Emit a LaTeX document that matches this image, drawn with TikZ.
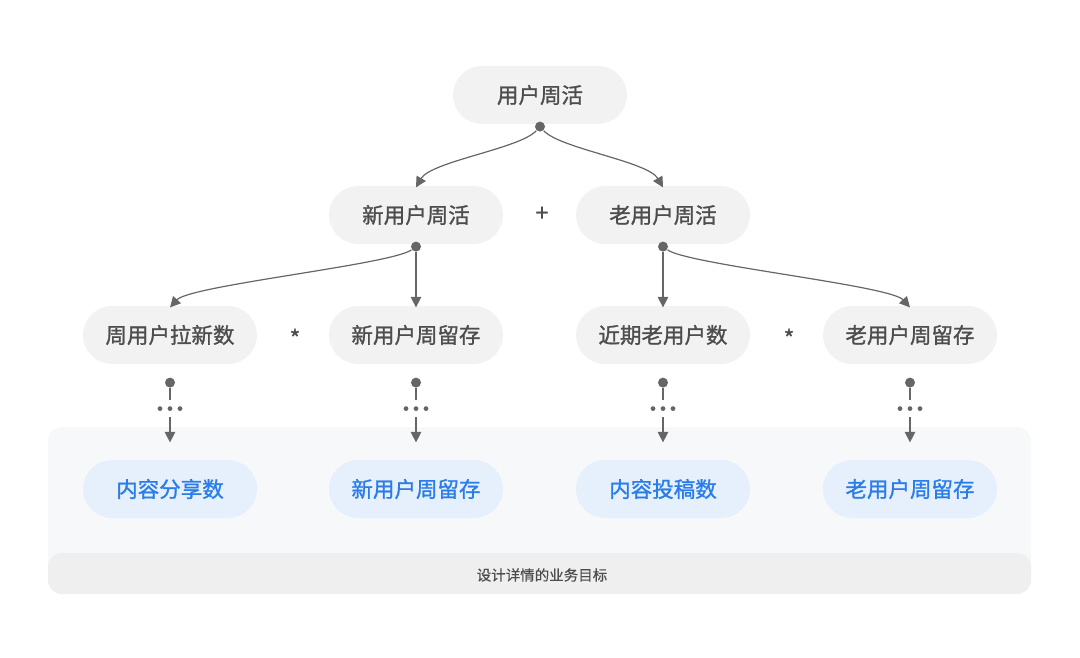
\documentclass[tikz,border=0pt]{standalone}
\usepackage{fontspec}
\newfontfamily\cjk[FakeBold=1.2]{Noto Sans CJK SC}
\newfontfamily\cjklight[FakeBold=0.4]{Noto Sans CJK SC}
\usetikzlibrary{arrows.meta,positioning}
\definecolor{pillgray}{HTML}{F2F2F2}
\definecolor{textgray}{HTML}{4D4D4D}
\definecolor{linegray}{HTML}{666666}
\definecolor{goalfill}{HTML}{E6F0FC}
\definecolor{goaltext}{HTML}{2A7DE8}
\definecolor{panelfill}{HTML}{F7F8FA}
\definecolor{bandfill}{HTML}{EFEFF0}

\begin{document}
\begin{tikzpicture}[x=1pt,y=-1pt,>={Triangle[length=10.5pt,width=10.5pt]},draw=linegray,line width=1.2pt]
    \tikzstyle{pill}=[rounded corners=29pt,minimum width=174pt,minimum height=58pt,inner sep=0pt,fill=pillgray,text=textgray,font=\cjk\fontsize{21.5}{24}\selectfont]
    \tikzstyle{goal}=[pill,fill=goalfill,text=goaltext]
    \tikzstyle{dot}=[circle,fill=linegray,inner sep=0pt,minimum size=10pt]
    \tikzstyle{gaps}=[inner sep=0pt,minimum width=26pt,minimum height=16pt]
    \tikzstyle{op}=[text=textgray,font=\cjk\fontsize{23}{24}\selectfont]

    \useasboundingbox (0,0) rectangle (1080,658);

    % panel with the goals
    \fill[panelfill,rounded corners=14pt] (48,427) rectangle (1031,594);
    \fill[bandfill,rounded corners=14pt] (48,553) rectangle (1031,594);
    \node[text=textgray,font=\cjklight\fontsize{14.5}{16}\selectfont] (band) at (542,575) {设计详情的业务目标};

    \node[pill] (top) at (540,95) {用户周活};
    \node[pill] (new) at (416,215) {新用户周活};
    \node[pill] (old) at (663,215) {老用户周活};
    \node[op] (plus) at (542,214) {+};

    \foreach \name/\x/\txt in {1/170/周用户拉新数,2/416/新用户周留存,3/663/近期老用户数,4/910/老用户周留存}
        \node[pill] (m-\name) at (\x,335) {\txt};
    \foreach \name/\x/\txt in {1/170/内容分享数,2/416/新用户周留存,3/663/内容投稿数,4/910/老用户周留存}
        \node[goal] (g-\name) at (\x,489) {\txt};
    \node[op] (times-1) at (295,338) {*};
    \node[op] (times-2) at (789,338) {*};

    % top level split
    \node[dot] (top-d) at ([yshift=-2pt]top.south) {};
    \draw[->] (top-d) .. controls +(-20,22) and +(15,-26) .. ([yshift=-2pt]new.north);
    \draw[->] (top-d) .. controls +(20,22) and +(-15,-26) .. ([yshift=-2pt]old.north);

    % second level split
    \node[dot] (new-d) at ([yshift=-2pt]new.south) {};
    \node[dot] (old-d) at ([yshift=-2pt]old.south) {};
    \draw[->] (new-d) .. controls +(-25,18) and +(20,-22) .. ([yshift=-2pt]m-1.north);
    \draw[->] (new-d) -- ([yshift=-2pt]m-2.north);
    \draw[->] (old-d) -- ([yshift=-2pt]m-3.north);
    \draw[->] (old-d) .. controls +(25,18) and +(-20,-22) .. ([yshift=-2pt]m-4.north);

    % down to the goals
    \foreach \name in {1,...,4} {
        \node[dot] (m-\name-d) at ([yshift=-18pt]m-\name.south) {};
        \node[gaps] (e-\name) at ([yshift=-44pt]m-\name.south) {};
        \fill[linegray] (e-\name) circle (2.4pt) ([xshift=-10pt]e-\name) circle (2.4pt) ([xshift=10pt]e-\name) circle (2.4pt);
        \coordinate (t-\name) at ([yshift=17pt]g-\name.north);
        \draw (m-\name-d) -- (e-\name.north);
        \draw[->] (e-\name.south) -- (t-\name);
    }
\end{tikzpicture}
\end{document}
